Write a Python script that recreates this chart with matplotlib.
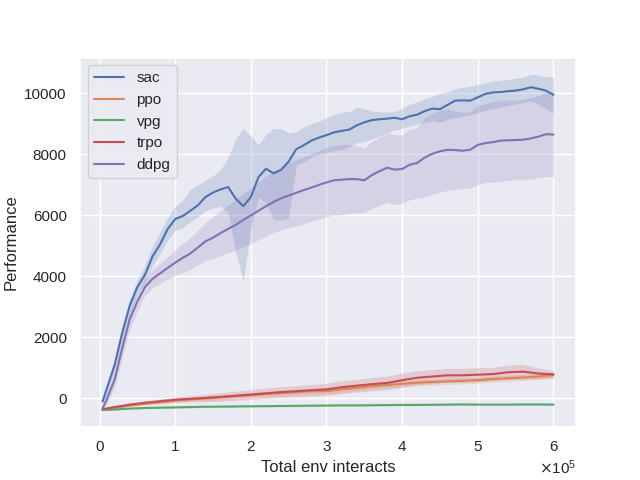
import numpy as np
import seaborn as sns
from matplotlib import pyplot as plt

# x grids (env interacts)
x_fine = [4000] + [10000 * k for k in range(1, 61)]
x_coarse = [4000] + [20000 * k for k in range(1, 31)]

# sac: mean / lower / upper of band
sac_mean = [-100, 350, 1100, 2150, 3050, 3650, 4050, 4650, 5050, 5550,
            5880, 5980, 6150, 6330, 6600, 6750, 6850, 6930, 6550, 6300,
            6600, 7250, 7530, 7380, 7490, 7760, 8170, 8300, 8450, 8550,
            8630, 8720, 8770, 8810, 8950, 9050, 9120, 9150, 9170, 9200,
            9150, 9250, 9300, 9420, 9500, 9480, 9620, 9760, 9770, 9760,
            9870, 9980, 10030, 10040, 10070, 10090, 10130, 10200, 10150, 10090,
            9950]
sac_hi = [0, 480, 1250, 2350, 3250, 3900, 4350, 5000, 5450, 5950,
          6300, 6500, 6850, 7000, 7150, 7300, 7500, 7900, 8500, 8850,
          8600, 8300, 8650, 8850, 8850, 8700, 8750, 8900, 9000, 9080,
          9200, 9300, 9380, 9400, 9550, 9500, 9420, 9400, 9380, 9400,
          9500, 9640, 9720, 9830, 9900, 10000, 10050, 10150, 10200, 10230,
          10280, 10350, 10400, 10430, 10450, 10500, 10530, 10620, 10600, 10550,
          10530]
sac_lo = [-200, 150, 900, 1900, 2800, 3450, 3800, 4350, 4750, 5200,
          5500, 5600, 5800, 5950, 6150, 6250, 6300, 6100, 4800, 3850,
          5600, 6600, 6400, 5870, 5850, 5900, 7650, 7750, 7900, 8000,
          8050, 8120, 8150, 8250, 8380, 8420, 8500, 8600, 8700, 8800,
          8850, 8920, 8980, 9050, 9100, 9050, 9150, 9200, 9250, 9300,
          9350, 9450, 9500, 9550, 9600, 9650, 9700, 9750, 9650, 9500,
          9350]

# ddpg
ddpg_mean = [-330, 0, 620, 1650, 2600, 3180, 3650, 3920, 4100, 4280,
             4450, 4610, 4750, 4950, 5150, 5270, 5420, 5560, 5690, 5850,
             6000, 6150, 6300, 6440, 6560, 6650, 6740, 6830, 6910, 7000,
             7080, 7150, 7170, 7190, 7190, 7150, 7320, 7450, 7560, 7500,
             7520, 7660, 7720, 7900, 8020, 8100, 8150, 8140, 8120, 8150,
             8310, 8370, 8400, 8450, 8460, 8470, 8480, 8520, 8580, 8660,
             8650]
ddpg_sd = [60, 150, 250, 300, 320, 300, 280, 300, 330, 370,
           420, 470, 520, 570, 620, 680, 730, 780, 830, 880,
           920, 950, 980, 1000, 1030, 1050, 1080, 1100, 1110, 1120,
           1130, 1140, 1150, 1130, 1100, 1060, 1100, 1110, 1130, 1150,
           1120, 1150, 1150, 1300, 1330, 1340, 1330, 1280, 1250, 1250,
           1310, 1290, 1320, 1330, 1310, 1300, 1320, 1330, 1340, 1380,
           1390]

# ppo / vpg / trpo on coarser grid
ppo_mean = [-360, -300, -230, -170, -120, -70, -30, 0, 40, 80,
            110, 150, 180, 210, 240, 240, 300, 350, 400, 440,
            480, 520, 540, 560, 580, 600, 640, 660, 690, 720, 770]
ppo_sd = [15, 30, 40, 50, 60, 60, 70, 70, 80, 80,
          80, 80, 90, 90, 90, 90, 100, 100, 100, 100,
          100, 100, 100, 100, 100, 100, 100, 100, 100, 100, 90]
vpg_mean = [-380, -360, -330, -310, -300, -290, -280, -270, -265, -260,
            -255, -250, -245, -240, -235, -230, -225, -225, -220, -215,
            -210, -210, -205, -200, -195, -200, -200, -200, -195, -195, -200]
vpg_sd = [10, 20, 25, 30, 30, 30, 30, 30, 30, 30,
          30, 30, 30, 30, 30, 30, 30, 30, 30, 30,
          30, 30, 30, 30, 30, 30, 30, 30, 30, 30, 30]
trpo_mean = [-350, -280, -200, -140, -90, -40, -10, 20, 50, 90,
             130, 170, 210, 240, 270, 300, 370, 420, 470, 510,
             600, 680, 720, 760, 760, 780, 800, 860, 880, 820, 790]
trpo_sd = [20, 40, 50, 60, 70, 80, 100, 120, 140, 150,
           160, 170, 180, 180, 190, 200, 210, 210, 220, 220,
           230, 230, 230, 230, 230, 230, 220, 230, 240, 180, 120]

sns.set(style="darkgrid")
plt.rcParams['font.family'] = ['Liberation Sans', 'DejaVu Sans']
pal = sns.color_palette("deep")

fig = plt.figure(figsize=(6.4, 4.8), dpi=100)
ax = plt.gca()


def band(x, m, lo, hi, c, name):
    ax.fill_between(x, lo, hi, color=c, alpha=0.2, linewidth=0)
    ax.plot(x, m, color=c, linewidth=1.5, label=name)


band(x_fine, sac_mean, sac_lo, sac_hi, pal[0], "sac")
m, s = np.array(ppo_mean), np.array(ppo_sd)
band(x_coarse, m, m - s, m + s, pal[1], "ppo")
m, s = np.array(vpg_mean), np.array(vpg_sd)
band(x_coarse, m, m - s, m + s, pal[2], "vpg")
m, s = np.array(trpo_mean), np.array(trpo_sd)
band(x_coarse, m, m - s, m + s, pal[3], "trpo")
m, s = np.array(ddpg_mean), np.array(ddpg_sd)
band(x_fine, m, m - s, m + s, pal[4], "ddpg")

ax.set_xlabel("Total env interacts")
ax.set_ylabel("Performance")
ax.ticklabel_format(style="sci", axis="x", scilimits=(0, 0), useMathText=True)
ax.legend(loc="upper left")

plt.savefig("out.png")
